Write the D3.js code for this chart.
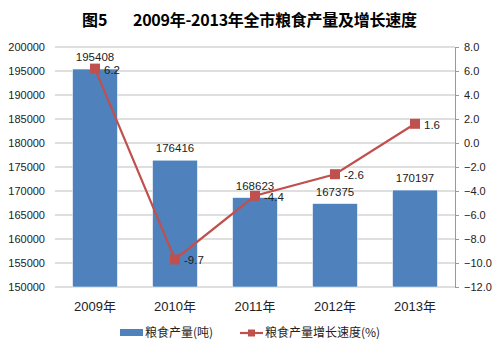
<!DOCTYPE html>
<html>
<head>
<meta charset="utf-8">
<script src="https://cdn.jsdelivr.net/npm/d3@7"></script>
<style>
body { margin: 0; background: #fff; }
text { font-family: "Liberation Sans", "Noto Sans CJK SC", sans-serif; }
</style>
</head>
<body>
<svg id="chart" width="500" height="353"></svg>
<script>
// data
var years = ["2009年", "2010年", "2011年", "2012年", "2013年"];
var output = [195408, 176416, 168623, 167375, 170197];
var growth = [6.2, -9.7, -4.4, -2.6, 1.6];
var leftTicks = [150000, 155000, 160000, 165000, 170000, 175000, 180000, 185000, 190000, 195000, 200000];
var rightTicks = [-12, -10, -8, -6, -4, -2, 0, 2, 4, 6, 8];

var margin = {top: 47, right: 45, bottom: 66, left: 55},
    width = 500 - margin.left - margin.right,
    height = 353 - margin.top - margin.bottom;

var svg = d3.select("#chart");

// title
svg.append("text")
    .attr("x", 82).attr("y", 26)
    .style("font-size", "16px").style("font-weight", "bold")
    .style("font-family", "'Noto Sans CJK SC', sans-serif")
    .text("图5");
svg.append("text")
    .attr("x", 133).attr("y", 26)
    .style("font-size", "16px").style("font-weight", "bold")
    .style("font-family", "'Noto Sans CJK SC', sans-serif")
    .attr("textLength", 284)
    .text("2009年-2013年全市粮食产量及增长速度");

var g = svg.append("g")
    .attr("transform", "translate(" + margin.left + "," + margin.top + ")");

var x = d3.scaleBand().domain(years).range([0, width]).paddingInner(0.44).paddingOuter(0.22);
var y = d3.scaleLinear().domain([150000, 200000]).range([height, 0]);
var y2 = d3.scaleLinear().domain([-12, 8]).range([height, 0]);

// gridlines
g.append("g")
    .selectAll("line")
    .data(leftTicks)
    .enter().append("line")
    .attr("x1", 0).attr("x2", width)
    .attr("y1", function (d) { return y(d); })
    .attr("y2", function (d) { return y(d); })
    .style("stroke", "#bfbfbf").style("stroke-width", 1);

// left axis
var ya = g.append("g")
    .call(d3.axisLeft(y).tickValues(leftTicks).tickSize(0).tickPadding(10).tickFormat(d3.format("d")));
ya.select(".domain").remove();
ya.selectAll("text").style("font-size", "11px").style("fill", "#222");

// right axis
var yb = g.append("g")
    .attr("transform", "translate(" + width + ",0)")
    .call(d3.axisRight(y2).tickValues(rightTicks).tickSize(4).tickPadding(5).tickFormat(d3.format(".1f")));
yb.select(".domain").style("stroke", "#999");
yb.selectAll("line").style("stroke", "#999");
yb.selectAll("text").style("font-size", "11px").style("fill", "#222");

// x axis labels
var xa = g.append("g")
    .attr("transform", "translate(0," + height + ")")
    .call(d3.axisBottom(x).tickSize(0).tickPadding(15));
xa.select(".domain").remove();
xa.selectAll("text").style("font-size", "13px").style("fill", "#222")
    .style("font-family", "'Liberation Sans', 'Noto Sans CJK SC', sans-serif");

// bars
g.append("g")
    .selectAll("rect")
    .data(output)
    .enter().append("rect")
    .attr("x", function (d, i) { return x(years[i]); })
    .attr("y", function (d) { return y(d); })
    .attr("width", x.bandwidth())
    .attr("height", function (d) { return height - y(d); })
    .style("fill", "#4f81bd")
    .style("stroke", "#fff").style("stroke-width", 0.5);

// bar labels
g.append("g")
    .selectAll("text")
    .data(output)
    .enter().append("text")
    .attr("x", function (d, i) { return x(years[i]) + x.bandwidth() / 2; })
    .attr("y", function (d) { return y(d) - 8; })
    .attr("text-anchor", "middle")
    .style("font-size", "11.5px").style("fill", "#222")
    .text(function (d) { return d; });

// growth line
var cx = function (i) { return x(years[i]) + x.bandwidth() / 2; };
var line = d3.line()
    .x(function (d, i) { return cx(i); })
    .y(function (d) { return y2(d); });

g.append("path")
    .datum(growth)
    .attr("d", line)
    .style("fill", "none").style("stroke", "#c0504d").style("stroke-width", 2.2);

g.append("g")
    .selectAll("rect")
    .data(growth)
    .enter().append("rect")
    .attr("x", function (d, i) { return cx(i) - 5; })
    .attr("y", function (d) { return y2(d) - 5; })
    .attr("width", 10).attr("height", 10)
    .style("fill", "#c0504d");

g.append("g")
    .selectAll("text")
    .data(growth)
    .enter().append("text")
    .attr("x", function (d, i) { return cx(i) + 9; })
    .attr("y", function (d) { return y2(d) + 5; })
    .style("font-size", "11.5px").style("fill", "#222")
    .text(function (d) { return d.toFixed(1); });

// legend
var lg = svg.append("g").attr("transform", "translate(0,333)");
lg.append("rect").attr("x", 120).attr("y", -4).attr("width", 23).attr("height", 7).style("fill", "#4f81bd");
lg.append("text").attr("x", 145).attr("y", 4)
    .style("font-size", "12px").style("fill", "#222")
    .style("font-family", "'Noto Sans CJK SC', sans-serif")
    .text("粮食产量(吨)");
lg.append("line").attr("x1", 240).attr("x2", 263).attr("y1", 0).attr("y2", 0)
    .style("stroke", "#c0504d").style("stroke-width", 2.2);
lg.append("rect").attr("x", 248).attr("y", -3.5).attr("width", 7).attr("height", 7).style("fill", "#c0504d");
lg.append("text").attr("x", 265).attr("y", 4)
    .style("font-size", "12px").style("fill", "#222")
    .style("font-family", "'Noto Sans CJK SC', sans-serif")
    .text("粮食产量增长速度(%)");
</script>
</body>
</html>
